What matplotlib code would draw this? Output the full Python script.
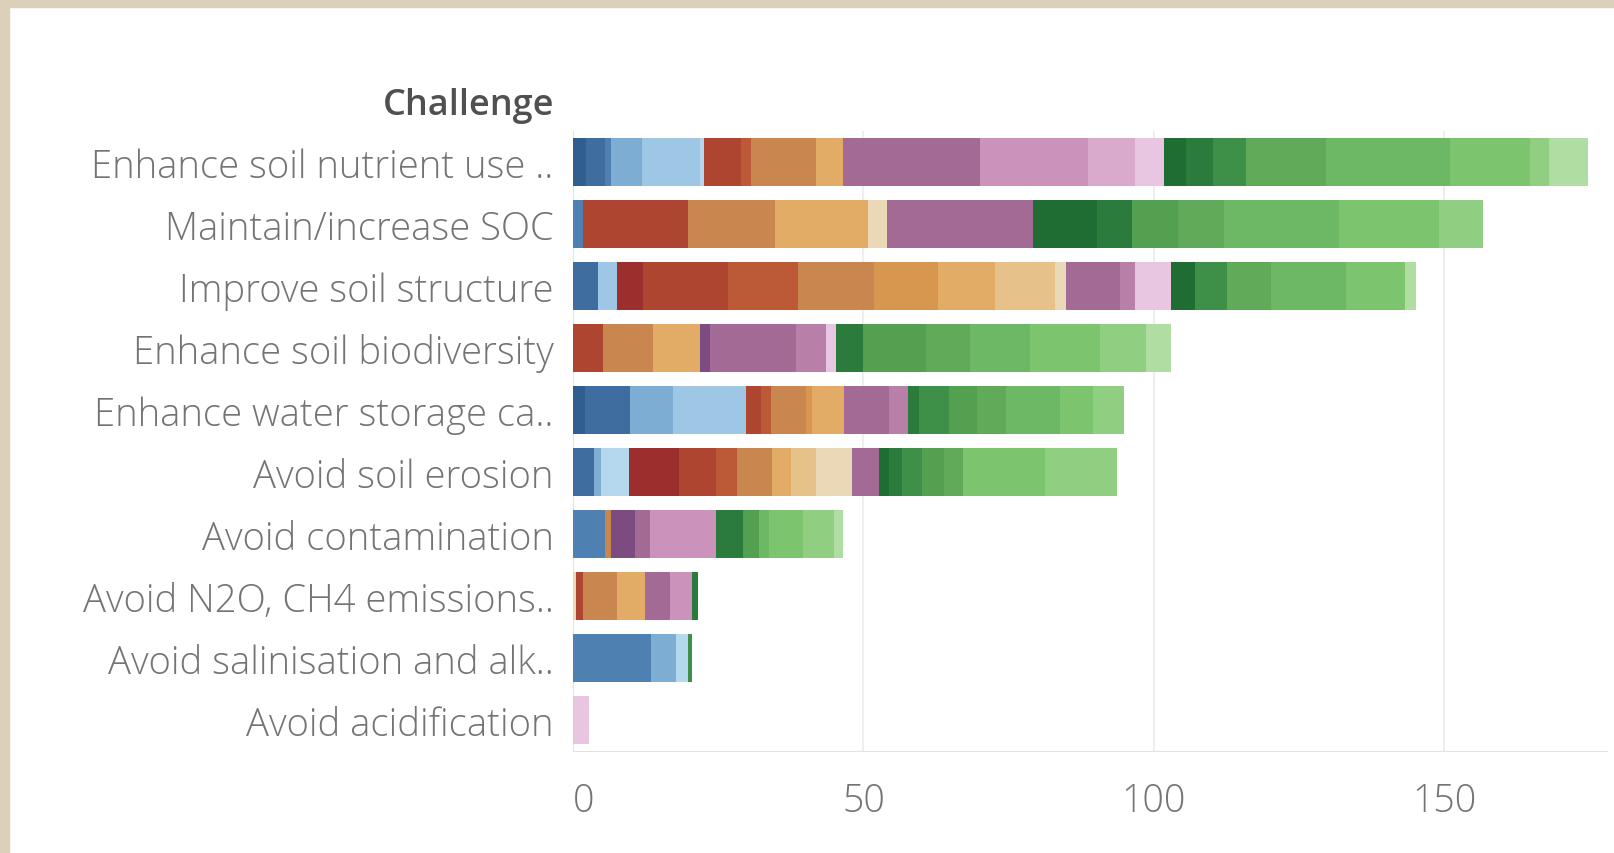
import matplotlib
matplotlib.use("Agg")
import matplotlib.pyplot as plt
from matplotlib.patches import Rectangle

# ---------------- data ----------------
challenges = [
    "Enhance soil nutrient use ..",
    "Maintain/increase SOC",
    "Improve soil structure",
    "Enhance soil biodiversity",
    "Enhance water storage ca..",
    "Avoid soil erosion",
    "Avoid contamination",
    "Avoid N2O, CH4 emissions..",
    "Avoid salinisation and alk..",
    "Avoid acidification",
]

nutrient_keys = ["B1", "B2", "B3", "B4", "B5", "B6", "R2", "R3", "R4", "R6", "P2", "P4", "P5", "P6",
                 "G1", "G2", "G3", "G5", "G6", "G7", "G8", "G9"]
nutrient_vals = [2.3, 3.2, 1.1, 5.2, 10.0, 0.7, 6.5, 1.7, 11.2, 4.6, 23.5, 18.6, 8.1, 5.1,
                 3.8, 4.6, 5.7, 13.8, 21.2, 13.8, 3.4, 6.7]

soc_keys = ["B3", "R2", "R4", "R6", "R8", "P2", "G1", "G2", "G4", "G5", "G6", "G7", "G8"]
soc_vals = [1.7, 18.1, 14.9, 16.1, 3.2, 25.2, 11.0, 6.0, 8.0, 7.8, 19.8, 17.2, 7.6]

structure_keys = ["B2", "B5", "R1", "R2", "R3", "R4", "R5", "R6", "R7", "R8", "P2", "P3", "P6",
                  "G1", "G3", "G5", "G6", "G7", "G9"]
structure_vals = [4.3, 3.2, 4.6, 14.6, 12.0, 13.2, 10.9, 9.8, 10.3, 2.0, 9.2, 2.6, 6.3,
                  4.0, 5.5, 7.7, 12.9, 10.1, 1.9]

biodiversity_keys = ["R2", "R4", "R6", "P1", "P2", "P3", "P6", "G2", "G4", "G5", "G6", "G7", "G8", "G9"]
biodiversity_vals = [5.2, 8.6, 8.0, 1.7, 14.9, 5.2, 1.7, 4.6, 10.9, 7.5, 10.3, 12.1, 7.9, 4.3]

water_keys = ["B1", "B2", "B4", "B5", "R2", "R3", "R4", "R5", "R6", "P2", "P3",
              "G2", "G3", "G4", "G5", "G6", "G7", "G8"]
water_vals = [2.0, 7.8, 7.4, 12.6, 2.6, 1.7, 6.0, 1.1, 5.5, 7.7, 3.2,
              2.0, 5.1, 4.9, 5.0, 9.2, 5.7, 5.3]

erosion_keys = ["B2", "B4", "B6", "R1", "R2", "R3", "R4", "R6", "R7", "R8", "P2",
                "G1", "G2", "G3", "G4", "G5", "G7", "G8"]
erosion_vals = [3.7, 1.1, 4.9, 8.6, 6.3, 3.7, 6.0, 3.2, 4.3, 6.3, 4.6,
                1.7, 2.3, 3.4, 3.7, 3.4, 14.1, 12.4]

contamination_keys = ["B3", "R4", "P1", "P2", "P4", "G2", "G4", "G6", "G7", "G8", "G9"]
contamination_vals = [5.5, 1.1, 4.0, 2.6, 11.5, 4.6, 2.8, 1.7, 5.8, 5.4, 1.5]

emissions_keys = ["R8", "R2", "R4", "R6", "P2", "P4", "G2"]
emissions_vals = [0.6, 1.1, 5.8, 4.9, 4.3, 3.7, 1.1]

salinisation_keys = ["B3", "B4", "B6", "G3"]
salinisation_vals = [13.4, 4.4, 2.0, 0.7]

acidification_keys = ["P6"]
acidification_vals = [2.75]

x_ticks = [0, 50, 100, 150]

rows_keys = [nutrient_keys, soc_keys, structure_keys, biodiversity_keys, water_keys,
             erosion_keys, contamination_keys, emissions_keys, salinisation_keys, acidification_keys]
rows_vals = [nutrient_vals, soc_vals, structure_vals, biodiversity_vals, water_vals,
             erosion_vals, contamination_vals, emissions_vals, salinisation_vals, acidification_vals]

# ---------------- styles ----------------
palette = {
    "B1": "#2f5e8f", "B2": "#3f6d9f", "B3": "#4f80b2", "B4": "#7eadd3", "B5": "#9dc7e5", "B6": "#b5d8ef",
    "R1": "#9c2f2e", "R2": "#ad4530", "R3": "#bc5936", "R4": "#c9874f", "R5": "#d8974f",
    "R6": "#e2ac66", "R7": "#e6c189", "R8": "#ebd8b7",
    "P1": "#7c4b7f", "P2": "#a36a95", "P3": "#b87fa8", "P4": "#cb92bb", "P5": "#d9aacb", "P6": "#e8c5e0",
    "G1": "#1f6d33", "G2": "#2b7c3c", "G3": "#3e8f48", "G4": "#53a051", "G5": "#61aa59",
    "G6": "#6db865", "G7": "#7dc46f", "G8": "#90cf81", "G9": "#b0dda1",
}

W, H = 1615, 854
fig = plt.figure(figsize=(W / 100, H / 100), dpi=100)
fig.patch.set_facecolor("white")

beige = "#dcd0bb"
fig.patches.append(Rectangle((0, 1 - 8 / H), 1, 8 / H, transform=fig.transFigure, color=beige, zorder=0))
fig.patches.append(Rectangle((0, 0), 9 / W, 1, transform=fig.transFigure, color=beige, zorder=0))

ax_left, ax_right = 573 / W, 1607 / W
ax_top, ax_bottom = 1 - 132 / H, 1 - 752 / H
ax = fig.add_axes([ax_left, ax_bottom, ax_right - ax_left, ax_top - ax_bottom])

for i, (keys, vals) in enumerate(zip(rows_keys, rows_vals)):
    left = 0.0
    for k, v in zip(keys, vals):
        ax.barh(i, v, left=left, height=0.76, color=palette[k], edgecolor="none", zorder=3)
        left += v

ax.set_ylim(len(challenges) - 0.5, -0.5)
ax.set_xlim(0, 178)

font = ["Open Sans", "DejaVu Sans"]
label_color = "#747474"
ax.set_yticks(range(len(challenges)))
ax.set_yticklabels(challenges, fontsize=27.5, color=label_color, family=font, fontweight="light")
ax.tick_params(axis="y", length=0, pad=14)

ax.set_xticks(x_ticks)
ax.set_xticklabels([str(t) for t in x_ticks], fontsize=27, color=label_color, family=font,
                   fontweight="light")
ax.tick_params(axis="x", length=0, pad=22)
for lbl in ax.get_xticklabels():
    if lbl.get_text() == "0":
        lbl.set_horizontalalignment("left")

ax.grid(axis="x", color="#ebebeb", linewidth=1.2, zorder=0)
ax.grid(axis="y", visible=False)
for s in ["top", "right"]:
    ax.spines[s].set_visible(False)
ax.spines["left"].set_color("#e3e3e3")
ax.spines["bottom"].set_color("#e3e3e3")
ax.set_facecolor("white")

fig.text(554 / W, 1 - 106 / H, "Challenge", ha="right", va="center", fontsize=26,
         fontweight="semibold", color="#505050", family=font)

fig.savefig("out.png", dpi=100, facecolor=fig.get_facecolor())
